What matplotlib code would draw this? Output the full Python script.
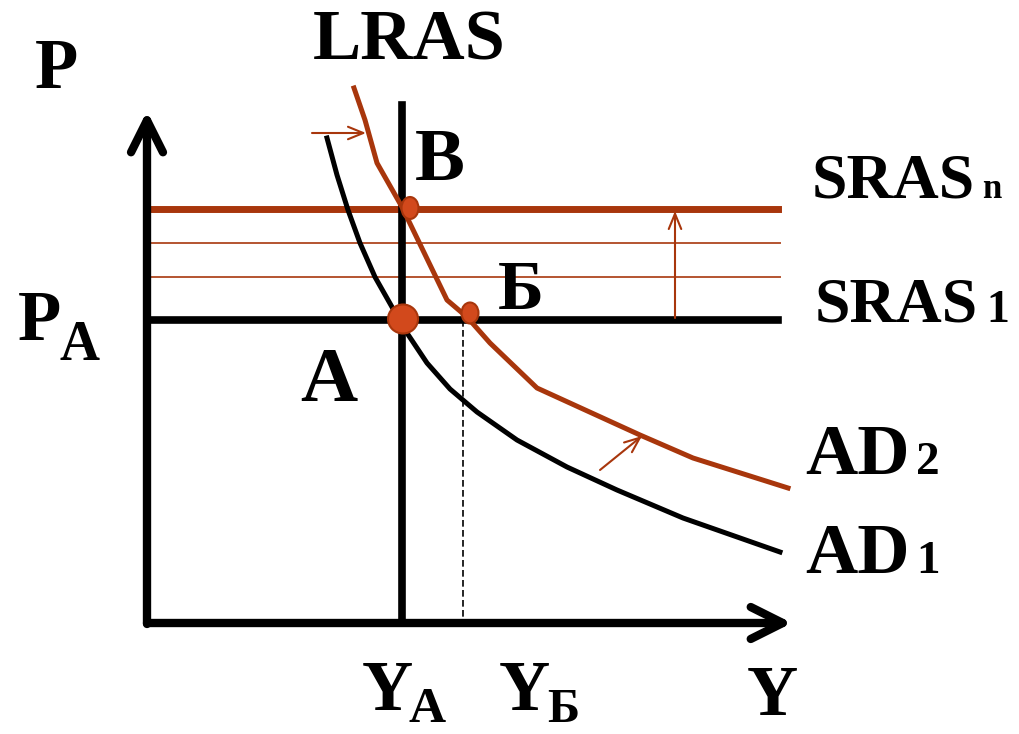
import matplotlib.pyplot as plt
from matplotlib.patches import Ellipse

# coordinates are in picture units (x to the right, y downward)
ORANGE = '#a8360c'
DOT = '#d2491c'

# axes
origin = (147, 623)
y_tip = 108
x_tip = 795

# LRAS, output levels and price levels
y_a = 402
y_b = 463
p_a = 320
sras_n = 209
sras_mid = [243, 277]
sras_right = 778

# AD curves
ad1_x = [327, 337, 348, 360, 375, 392, 403, 427, 450, 477, 517, 567, 617, 683, 780]
ad1_y = [138, 175, 210, 243, 277, 307, 327, 363, 389, 412, 440, 467, 490, 518, 552]
ad2_x = [354, 365, 377, 402, 447, 467, 490, 537, 640, 693, 788]
ad2_y = [88, 120, 163, 207, 300, 317, 343, 388, 435, 458, 488]

# equilibrium points (В, A, Б)
pts_x = [410, 403, 470]
pts_y = [208, 319, 313]
pts_w = [17, 30, 17]
pts_h = [22, 29, 21]

fig = plt.figure(figsize=(10.19, 7.34), dpi=100)
ax = fig.add_axes([0, 0, 1, 1])
ax.set_xlim(0, 1019)
ax.set_ylim(734, 0)
ax.axis('off')

# axes with open arrow heads
axis_kw = dict(arrowstyle='->,head_length=2.3,head_width=1.15', lw=6, color='k',
               capstyle='round', joinstyle='round', shrinkA=0, shrinkB=0)
ax.annotate('', xy=(origin[0], y_tip + 3), xytext=(origin[0], origin[1] + 1), arrowprops=axis_kw)
ax.annotate('', xy=(x_tip - 3, origin[1]), xytext=(origin[0], origin[1]), arrowprops=axis_kw)

# SRAS lines
for lv in sras_mid:
    ax.plot([origin[0], sras_right + 2], [lv, lv], color=ORANGE, lw=1.4, alpha=0.85)
ax.plot([origin[0], sras_right], [sras_n, sras_n], color=ORANGE, lw=5)
ax.plot([origin[0], sras_right], [p_a, p_a], color='k', lw=5.5)

# LRAS
ax.plot([y_a, y_a], [105, origin[1]], color='k', lw=5.5)
# dashed line down to Y_Б
ax.plot([y_b, y_b], [p_a, origin[1]], color='k', lw=1.2, ls=(0, (4, 2)))

# AD curves
ax.plot(ad1_x, ad1_y, color='k', lw=3.6, solid_joinstyle='round')
ax.plot(ad2_x, ad2_y, color=ORANGE, lw=3.6, solid_joinstyle='round')

# shift arrows
arrow_kw = dict(arrowstyle='->,head_length=1.1,head_width=0.45', lw=1.5, color=ORANGE,
                shrinkA=0, shrinkB=0)
ax.annotate('', xy=(366, 133), xytext=(312, 133), arrowprops=arrow_kw)
ax.annotate('', xy=(642, 436), xytext=(600, 470), arrowprops=arrow_kw)
ax.annotate('', xy=(675, sras_n + 2), xytext=(675, p_a - 2), arrowprops=arrow_kw)

# points
for x, y, w, h in zip(pts_x, pts_y, pts_w, pts_h):
    ax.add_patch(Ellipse((x, y), w, h, facecolor=DOT, edgecolor=ORANGE, lw=1.5, zorder=5))

# labels
fk = dict(family='Liberation Serif', weight='bold', color='k', ha='left', va='baseline')
ax.text(313, 60, 'LRAS', fontsize=52, **fk)
ax.text(35, 88, 'P', fontsize=51, **fk)
ax.text(18, 340, 'P', fontsize=51, **fk)
ax.text(60, 360, 'A', fontsize=40, **fk)
ax.text(415, 180, 'В', fontsize=54, **fk)
ax.text(498, 309, 'Б', fontsize=50, **fk)
ax.text(300, 401, 'A', fontsize=57, **fk)

ax.text(812, 198, 'SRAS', fontsize=46, **fk)
ax.text(982, 198, 'n', fontsize=25, **fk)
ax.text(815, 322, 'SRAS', fontsize=46, **fk)
ax.text(986, 322, '1', fontsize=33, **fk)
ax.text(805, 474, 'AD', fontsize=52, **fk)
ax.text(916, 474, '2', fontsize=34, **fk)
ax.text(805, 573, 'AD', fontsize=52, **fk)
ax.text(916, 573, '1', fontsize=34, **fk)

ax.text(362, 710, 'Y', fontsize=51, **fk)
ax.text(409, 722, 'A', fontsize=37, **fk)
ax.text(499, 710, 'Y', fontsize=51, **fk)
ax.text(547, 722, 'Б', fontsize=35, **fk)
ax.text(747, 715, 'Y', fontsize=51, **fk)

fig.savefig('out.png', dpi=100)
